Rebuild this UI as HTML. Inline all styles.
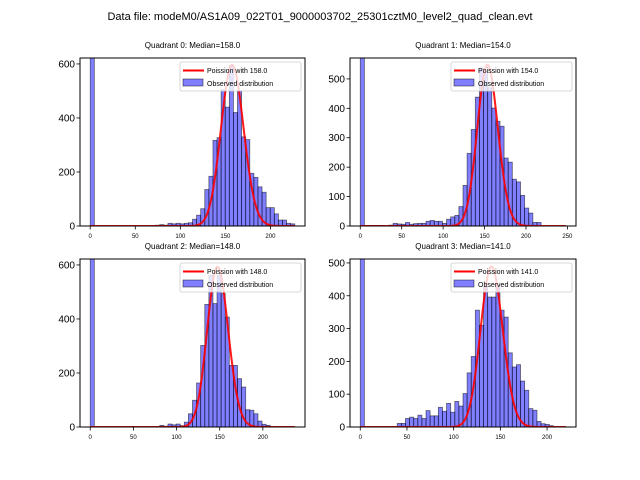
<!DOCTYPE html>
<html><head><meta charset="utf-8"><style>
body{margin:0;background:#fff;}
svg{display:block;font-family:"Liberation Sans","DejaVu Sans",sans-serif;}
</style></head><body>
<svg id="fig" width="640" height="480" viewBox="0 0 640 480">
<rect width="640" height="480" fill="#fff"/>
<text x="320" y="20" font-size="11" text-anchor="middle">Data file: modeM0/AS1A09_022T01_9000003702_25301cztM0_level2_quad_clean.evt</text>
</svg>
<script>
// ---- data ----
const quadrantNames = ["Quadrant 0","Quadrant 1","Quadrant 2","Quadrant 3"];
const medians = [158.0, 154.0, 148.0, 141.0];
const dataMax = [227, 248, 237, 220];
const yMax = [622, 571, 622, 512];
const curvePeaks = [596, 548, 593, 489];
const counts0 = [2000,0,0,0,0,0,0,0,0,0,0,0,0,0,0,0,3,5,3,10,8,10,8,10,12,25,40,64,135,184,317,327,505,440,595,420,500,330,320,195,180,145,125,68,68,45,22,22,10,8];
const counts1 = [2000,2,2,1,2,1,0,3,9,7,6,12,6,8,9,9,16,19,16,16,9,23,31,36,66,138,247,328,438,537,525,470,401,356,339,231,217,159,150,104,61,44,12,12,0,0,0,0,0,1];
const counts2 = [2000,0,0,0,0,0,0,0,0,0,0,0,0,0,0,0,0,6,3,11,8,11,5,18,49,99,163,302,454,562,457,562,494,407,228,228,179,148,64,62,49,22,10,6,2,1,1,0,0,1];
const counts3 = [2000,0,0,0,0,0,0,0,0,11,11,26,30,26,36,26,50,34,34,60,48,72,45,78,64,102,165,215,356,310,427,396,396,433,356,335,226,183,190,140,112,56,51,17,10,8,4,1,0,1];
const allCounts = [counts0, counts1, counts2, counts3];
const yTicks = [[0,200,400,600],[0,100,200,300,400,500],[0,200,400,600],[0,100,200,300,400,500]];
const xTicks = [[0,50,100,150,200],[0,50,100,150,200,250],[0,50,100,150,200],[0,50,100,150,200]];

// ---- layout ----
const boxes = [{l:80,r:305,t:58,b:226},{l:350,r:576,t:58,b:226},{l:80,r:305,t:259,b:427},{l:350,r:576,t:259,b:427}];
const NS = "http://www.w3.org/2000/svg";
const svg = document.getElementById("fig");
function mk(tag, attrs, parent){const e=document.createElementNS(NS,tag);for(const k in attrs)e.setAttribute(k,attrs[k]);(parent||svg).appendChild(e);return e;}
function logFact(k){let s=0;for(let i=2;i<=k;i++)s+=Math.log(i);return s;}

for(let q=0;q<4;q++){
  const b=boxes[q], mx=dataMax[q], xmin=-0.05*mx, xmax=1.05*mx;
  const sx=v=>b.l+(v-xmin)/(xmax-xmin)*(b.r-b.l);
  const sy=v=>b.b-v/yMax[q]*(b.b-b.t);
  const g=mk("g",{});
  
  
  const cid="clip"+q;
  const cp=mk("clipPath",{id:cid},g); mk("rect",{x:b.l,y:b.t,width:b.r-b.l,height:b.b-b.t},cp);
  const plot=mk("g",{"clip-path":"url(#"+cid+")"},g);
  const cs=allCounts[q], bw=mx/cs.length;
  cs.forEach((c,i)=>{
    if(c<=0) return;
    const r=mk("rect",{x:sx(i*bw),y:sy(c),width:sx((i+1)*bw)-sx(i*bw),height:sy(0)-sy(c),fill:"rgba(0,0,255,0.5)",stroke:"rgba(0,0,0,0.55)","stroke-width":0.8},plot);
    
    
  });
  // poisson curve
  const mu=medians[q];
  const pk=Math.floor(mu), pmax=Math.exp(pk*Math.log(mu)-mu-logFact(pk));
  let d="";
  for(let k=0;k<=Math.round(mx);k++){
    const p=Math.exp(k*Math.log(mu)-mu-logFact(k));
    const v=p/pmax*curvePeaks[q];
    d+=(k?"L":"M")+sx(k).toFixed(2)+","+sy(v).toFixed(2);
  }
  const ln=mk("path",{d:d,fill:"none",stroke:"#f00","stroke-width":2,"stroke-opacity":0.9},plot);
  
  
  // frame
  mk("rect",{x:b.l,y:b.t,width:b.r-b.l,height:b.b-b.t,fill:"none",stroke:"#000","stroke-width":1},g);
  yTicks[q].forEach(t=>{
    const y=sy(t);
    mk("line",{x1:b.l-3.5,x2:b.l,y1:y,y2:y,stroke:"#000","stroke-width":0.8},g);
    const tx=mk("text",{x:b.l-5,y:y+3.5,"font-size":10,"text-anchor":"end"},g); tx.textContent=t;
    
    
  });
  xTicks[q].forEach(t=>{
    const x=sx(t);
    mk("line",{x1:x,x2:x,y1:b.b,y2:b.b+3.5,stroke:"#000","stroke-width":0.8},g);
    const tx=mk("text",{x:x,y:b.b+12,"font-size":6,"text-anchor":"middle"},g); tx.textContent=t;
    
    
  });
  const ti=mk("text",{x:(b.l+b.r)/2,y:b.t-10,"font-size":8,"text-anchor":"middle"},g);
  ti.textContent=quadrantNames[q]+": Median="+medians[q].toFixed(1);
  
  
  const lg=mk("g",{},g);
  
  
  const lx=b.r-125, ly=b.t+4;
  mk("rect",{x:lx,y:ly,width:121,height:29,rx:2,fill:"rgba(255,255,255,0.8)",stroke:"#ccc","stroke-width":0.8},lg);
  mk("line",{x1:lx+3,x2:lx+24,y1:ly+8.5,y2:ly+8.5,stroke:"#f00","stroke-width":2},lg);
  const t1=mk("text",{x:lx+27,y:ly+11,"font-size":7},lg); t1.textContent="Poission with "+medians[q].toFixed(1);
  
  
  mk("rect",{x:lx+3,y:ly+17,width:20,height:7,fill:"rgba(0,0,255,0.5)",stroke:"rgba(0,0,0,0.55)","stroke-width":0.8},lg);
  const t2=mk("text",{x:lx+27,y:ly+24,"font-size":7},lg); t2.textContent="Observed distribution";
  
  
}
</script>
</body></html>
